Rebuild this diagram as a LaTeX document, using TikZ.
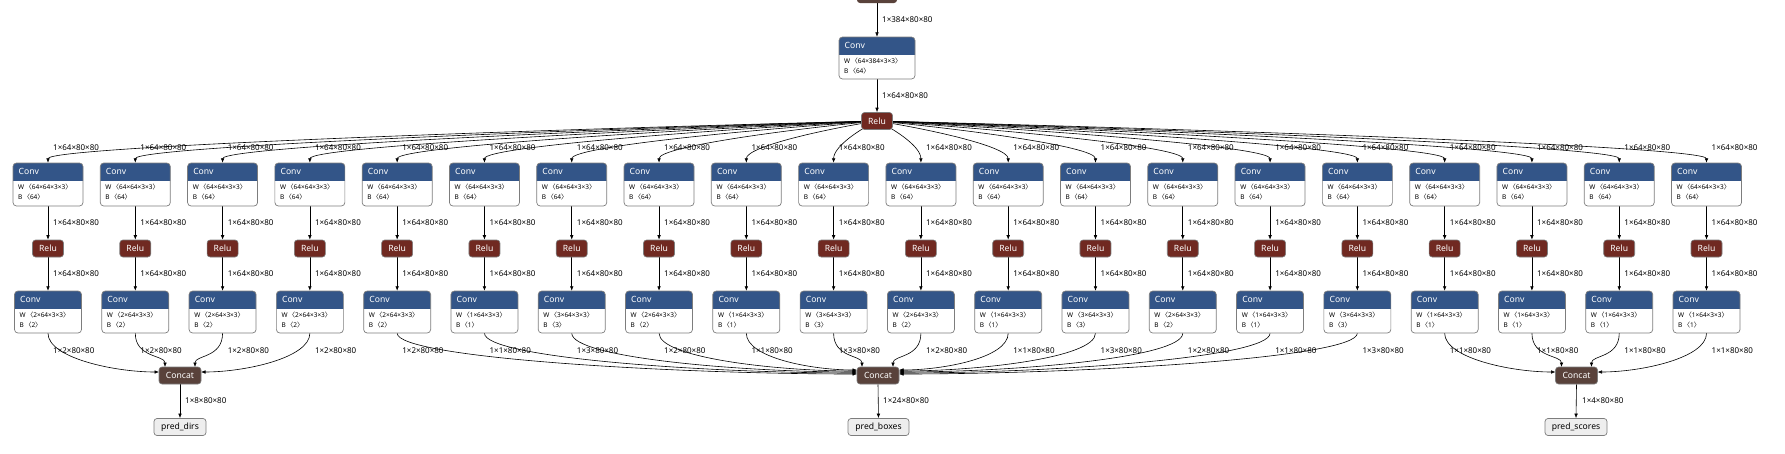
\documentclass[tikz,border=0pt]{standalone}
\usepackage{fontspec}
\setmainfont{Noto Sans}
\newfontfamily\cjkfont{Noto Sans CJK SC}
\usetikzlibrary{arrows.meta,calc}
\pgfdeclarelayer{edges}
\pgfsetlayers{edges,main}
\definecolor{convblue}{RGB}{51,85,136}
\definecolor{relured}{RGB}{112,41,33}
\definecolor{catbrown}{RGB}{89,66,59}
\definecolor{nodeborder}{RGB}{125,125,125}
\definecolor{outgray}{RGB}{238,238,238}
\newcommand\shp[1]{{\cjkfont 〈}#1{\cjkfont 〉}}
\newcommand\titlefont{\fontsize{8.6}{10}\selectfont}
\newcommand\attrfont{\fontsize{6.5}{7.5}\selectfont}
\newcommand\elabfont{\fontsize{8}{9}\selectfont}
\tikzset{
  edge/.style={draw=black, line width=0.6pt, -{Latex[length=4.5pt,width=3.6pt]}},
  elab/.style={anchor=west, font=\elabfont, inner sep=0},
  relu/.style={fill=relured, draw=nodeborder, line width=0.6pt, rounded corners=3pt, text=white, font=\titlefont, minimum width=31pt, minimum height=17pt, inner sep=0},
  cat/.style={fill=catbrown, draw=nodeborder, line width=0.6pt, rounded corners=3pt, text=white, font=\titlefont, minimum width=42pt, minimum height=17pt, inner sep=0},
  outp/.style={fill=outgray, draw=nodeborder, line width=0.7pt, rounded corners=3pt, font=\titlefont, minimum height=17pt, inner sep=0}
}
\newcommand\convbox[7]{%
  \pgfmathsetmacro\cbL{#2-#4/2}%
  \pgfmathsetmacro\cbR{#2+#4/2}%
  \pgfmathsetmacro\cbB{#3+#5}%
  \pgfmathsetmacro\cbH{#3+17}%
  \pgfmathsetmacro\cbC{#3+#5/2}%
  \fill[white, rounded corners=3.5pt] (\cbL,#3) rectangle (\cbR,\cbB);
  \begin{scope}
    \clip (\cbL,#3) rectangle (\cbR,\cbH);
    \fill[convblue, rounded corners=3.5pt] (\cbL,#3) rectangle (\cbR,\cbB);
  \end{scope}
  \draw[nodeborder, line width=0.7pt, rounded corners=3.5pt] (\cbL,#3) rectangle (\cbR,\cbB);
  \node[inner sep=0, minimum width=#4pt, minimum height=#5pt] (#1) at (#2,\cbC) {};
  \node[anchor=west, inner sep=0, text=white, font=\titlefont] at (\cbL+5.5,#3+8.7) {Conv};
  \node[anchor=west, inner sep=0, font=\attrfont] at (\cbL+5,#3+24.5) {\textbf{W}\,\shp{#6}};
  \node[anchor=west, inner sep=0, font=\attrfont] at (\cbL+5,#3+34.5) {\textbf{B}\,\shp{#7}};
}
\begin{document}
\begin{tikzpicture}[x=1pt,y=-1pt]
\useasboundingbox (0,0) rectangle (1785,453);
% partial top node
\begin{scope}
  \clip (0,0) rectangle (1785,453);
  \fill[catbrown, rounded corners=3pt] (857,-15) rectangle (897,3);
\end{scope}
\node[inner sep=0, minimum width=40pt, minimum height=18pt] (top) at (877,-6) {};
% head conv
\convbox{c0}{877}{37}{76}{42}{64×384×3×3}{64}
\node[relu] (r0) at (877,121) {Relu};
% columns
\foreach \k/\c in {1/2,2/2,3/2,4/2,5/2,6/1,7/3,8/2,9/1,10/3,11/2,12/1,13/3,14/2,15/1,16/3,17/1,18/1,19/1,20/1}{
  \pgfmathsetmacro\X{48+87.29*(\k-1)}
  \convbox{a\k}{\X}{163}{70}{43}{64×64×3×3}{64}
  \node[relu] (r\k) at (\X,248.5) {Relu};
  \convbox{b\k}{\X}{291}{67}{42}{\c×64×3×3}{\c}
  \node[elab] at (\X+5,147.5) {1×64×80×80};
  \node[elab] at (\X+5,223) {1×64×80×80};
  \node[elab] at (\X+5,274) {1×64×80×80};
  \node[elab] at (\X+5,351) {1×\c×80×80};
}
\node[cat] (cat1) at (180,375.5) {Concat};
\node[cat] (cat2) at (878,375.5) {Concat};
\node[cat] (cat3) at (1576.5,375.5) {Concat};
\node[outp, minimum width=52pt] (o1) at (180,427) {pred\_dirs};
\node[outp, minimum width=61pt] (o2) at (878.5,427) {pred\_boxes};
\node[outp, minimum width=62pt] (o3) at (1576,427) {pred\_scores};
\node[elab] at (882,20) {1×384×80×80};
\node[elab] at (882,96) {1×64×80×80};
\node[elab] at (185,401) {1×8×80×80};
\node[elab] at (883,401) {1×24×80×80};
\node[elab] at (1582,401) {1×4×80×80};
\begin{pgfonlayer}{edges}
  \draw[edge] (top.south) -- (c0.north);
  \draw[edge] (c0.south) -- (r0.north);
  \foreach \k in {1,...,20}{
    \pgfmathsetmacro\X{48+87.29*(\k-1)}
    \pgfmathsetmacro\pa{877+0.35*(\X-877)}
    \draw[edge] (r0.center) .. controls (\pa,128) and (\X,146) .. (a\k.north);
    \draw[edge] (a\k.south) -- (r\k.north);
    \draw[edge] (r\k.south) -- (b\k.north);
  }
  \foreach \k/\cat/\cx/\ox/\oy/\typ in {1/cat1/180/-21/-3.5/1, 2/cat1/180/-15/-8.5/0, 3/cat1/180/15/-8.5/0, 4/cat1/180/21/-3.5/1,
     5/cat2/878/-21/-1.5/1, 6/cat2/878/-21/-2.5/1, 7/cat2/878/-21/-3.5/1, 8/cat2/878/-21/-4.5/1, 9/cat2/878/-21/-5.5/1,
     10/cat2/878/-16/-8.5/0, 11/cat2/878/15/-8.5/0,
     12/cat2/878/21/-5.5/1, 13/cat2/878/21/-4.5/1, 14/cat2/878/21/-3.5/1, 15/cat2/878/21/-2.5/1, 16/cat2/878/21/-1.5/1,
     17/cat3/1576.5/-21/-3.5/1, 18/cat3/1576.5/-15/-8.5/0, 19/cat3/1576.5/15/-8.5/0, 20/cat3/1576.5/21/-3.5/1}{
    \pgfmathsetmacro\X{48+87.29*(\k-1)}
    \pgfmathsetmacro\Tx{\cx+\ox}
    \pgfmathsetmacro\Ty{375.5+\oy}
    \pgfmathsetmacro\Px{\typ*(\Tx-0.4*(\Tx-\X))+(1-\typ)*\Tx}
    \pgfmathsetmacro\Py{\Ty-(1-\typ)*12}
    \draw[edge] (b\k.south) .. controls (\X,358) and (\Px,\Py) .. ($(\cat.center)+(\ox,\oy)$);
  }
  \draw[edge] (cat1.south) -- (o1.north);
  \draw[edge] (cat2.south) -- (o2.north);
  \draw[edge] (cat3.south) -- (o3.north);
\end{pgfonlayer}
\end{tikzpicture}
\end{document}
